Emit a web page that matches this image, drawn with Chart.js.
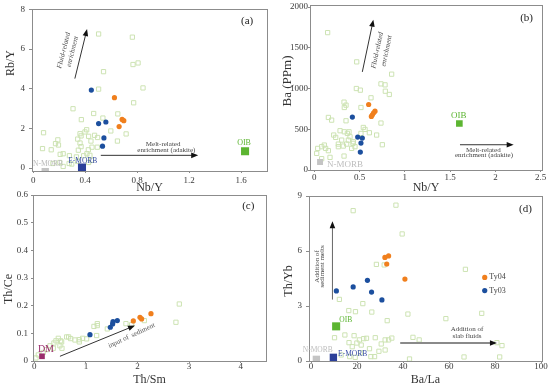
<!DOCTYPE html>
<html>
<head>
<meta charset="utf-8">
<script src="https://cdn.jsdelivr.net/npm/chart.js@4.4.1/dist/chart.umd.min.js"></script>
<style>
  body { margin: 0; width: 550px; height: 386px; overflow: hidden; position: relative; background: #fff; }
  canvas { position: absolute; }
</style>
</head>
<body>
<canvas id="pa"></canvas>
<canvas id="pb"></canvas>
<canvas id="pc"></canvas>
<canvas id="pd"></canvas>
<script>
const SERIF = '"Liberation Serif", "DejaVu Serif", serif';

// (a) Nb/Y vs Rb/Y
const aTicksX = [0, 0.4, 0.8, 1.2, 1.6];
const aTicksY = [0, 2, 4, 6, 8];
const aTy03 = [[0.447, 3.93], [0.503, 2.24], [0.559, 2.32], [0.544, 1.52], [0.533, 1.1]];
const aTy04 = [[0.625, 3.55], [0.684, 2.45], [0.697, 2.39], [0.661, 2.09]];
const aOIB = [[1.631, 0.85]];
const aEMORB = [[0.375, 0.02]];
const aNMORB = [[0.092, -0.18]];
const aRef = [
  [0.503, 6.76], [0.763, 6.6], [0.541, 4.86], [0.768, 5.22], [0.807, 5.3], [0.845, 4.04], [0.503, 3.98],
  [0.773, 3.29], [0.306, 2.99], [0.465, 2.75], [0.651, 2.73], [0.37, 2.44], [0.536, 2.52], [0.079, 1.78],
  [0.715, 1.72], [0.597, 1.87], [0.472, 1.65], [0.411, 1.93], [0.398, 1.82], [0.36, 1.73], [0.368, 1.62],
  [0.426, 1.6], [0.189, 1.42], [0.171, 1.23], [0.194, 1.16], [0.648, 1.36], [0.071, 0.98], [0.138, 0.92],
  [0.36, 1.26], [0.342, 1.46], [0.444, 1.36], [0.368, 1.08], [0.347, 0.9], [0.424, 0.92], [0.452, 1.05],
  [0.493, 1.05], [0.413, 0.72], [0.207, 0.69], [0.23, 0.72], [0.278, 0.62], [0.388, 0.62], [0.436, 0.64],
  [0.151, 0.23], [0.204, 0.28], [0.296, 0.2], [0.342, 0.33], [0.426, 0.28], [0.449, 0.39], [0.23, 0.08],
  [0.276, 0.23], [0.495, 1.54], [0.332, 0.56],
];

// (b) Nb/Y vs Ba
const bTicksX = [0, 0.5, 1, 1.5, 2, 2.5];
const bTicksY = [0, 500, 1000, 1500, 2000];
const bTy03 = [[0.42, 649], [0.479, 404], [0.53, 392], [0.515, 331], [0.508, 220]];
const bTy04 = [[0.6, 804], [0.67, 722], [0.655, 702], [0.641, 678], [0.63, 657]];
const bOIB = [[1.602, 571]];
const bNMORB = [[0.063, 98]];
const bRef = [
  [0.147, 1686], [0.468, 1327], [0.854, 1176], [0.736, 1057], [0.781, 1045], [0.464, 1000], [0.508, 980],
  [0.828, 927], [0.784, 967], [0.626, 886], [0.328, 833], [0.331, 767], [0.35, 796], [0.515, 767],
  [0.155, 645], [0.191, 612], [0.35, 604], [0.736, 576], [0.541, 522], [0.56, 498], [0.284, 482],
  [0.331, 469], [0.383, 469], [0.365, 449], [0.608, 457], [0.688, 429], [0.515, 449], [0.214, 429],
  [0.236, 400], [0.302, 367], [0.394, 408], [0.376, 367], [0.427, 327], [0.751, 310], [0.265, 318],
  [0.32, 294], [0.357, 318], [0.11, 306], [0.081, 286], [0.125, 265], [0.037, 265], [0.155, 237],
  [0.265, 286], [0.412, 265], [0.026, 204], [0.328, 171], [0.173, 155], [0.081, 139], [0.449, 286],
  [0.431, 347],
];

// (c) Th/Sm vs Th/Ce
const cTicksX = [0, 1, 2, 3, 4];
const cTicksY = [0, 0.1, 0.2, 0.3, 0.4, 0.5, 0.6];
const cTy03 = [[1.079, 0.095], [1.473, 0.122], [1.518, 0.134], [1.525, 0.142], [1.609, 0.146]];
const cTy04 = [[1.919, 0.145], [2.048, 0.158], [2.08, 0.152], [2.261, 0.171]];
const cDM = [[0.149, 0.017]];
const cRef = [
  [2.81, 0.206], [2.745, 0.14], [2.132, 0.146], [1.776, 0.135], [1.221, 0.135], [1.221, 0.128],
  [1.156, 0.125], [1.415, 0.116], [1.208, 0.092], [0.937, 0.082], [1.014, 0.08], [0.872, 0.077],
  [0.788, 0.076], [0.872, 0.069], [0.704, 0.081], [0.627, 0.087], [0.665, 0.087], [0.465, 0.082],
  [0.42, 0.073], [0.51, 0.073], [0.381, 0.065], [0.53, 0.069], [0.497, 0.055], [0.536, 0.046],
  [0.304, 0.055], [0.368, 0.046], [0.239, 0.041], [0.174, 0.031], [0.078, 0.022], [0.032, 0.011],
  [1.886, 0.131],
];

// (d) Ba/La vs Th/Yb
const dTicksX = [0, 20, 40, 60, 80, 100];
const dTicksY = [0, 3, 6, 9];
const dTy03 = [[11.0, 3.82], [18.3, 4.04], [24.5, 4.4], [26.3, 3.76], [30.8, 3.33]];
const dTy04 = [[32.1, 5.65], [33.7, 5.73], [32.9, 5.29], [40.8, 4.47]];
const dOIB = [[10.9, 1.89]];
const dEMORB = [[9.7, 0.2]];
const dNMORB = [[2.3, 0.09]];
const dRef = [
  [18.3, 8.2], [36.9, 8.5], [39.6, 6.93], [67.1, 5.0], [28.4, 5.27], [31.8, 5.24], [12.3, 3.36],
  [22.5, 3.13], [16.4, 2.75], [19.3, 2.69], [26.4, 2.67], [33.1, 2.2], [42.1, 2.56], [58.6, 2.31],
  [74.2, 2.6], [10.2, 1.27], [14.7, 1.42], [18.7, 1.38], [16.5, 1.0], [19.9, 0.98], [21, 1.15],
  [22.9, 1.22], [24.1, 1.24], [17.9, 0.78], [21.8, 0.87], [25.4, 0.67], [27.9, 1.27], [32.2, 1.15],
  [33.7, 1.15], [35.1, 1.25], [30.5, 0.93], [29.5, 0.53], [32.2, 0.6], [13.1, 0.33], [16.8, 0.24],
  [19.2, 0.2], [21.5, 0.45], [26, 0.24], [27.6, 0.24], [44.3, 1.29], [47, 1.15], [42.8, 0.11],
  [66.5, 0.22], [80.8, 1.0], [83, 0.84], [82, 0.22],
];

const BLUE = '#1c4f9e';
const ORANGE = '#f07f1d';
const GREEN = '#5cb531';
const EBLUE = '#2b3f9a';
const GRAY = '#c4c4c4';
const PURPLE = '#9a2c6c';
const REF = '#cde3b3';

const pts = (arr) => arr.map(([x, y]) => ({ x, y }));

function dots(arr, color) {
  return { data: pts(arr), pointStyle: 'circle', pointRadius: 2.6, backgroundColor: color, borderWidth: 0, order: 1 };
}
function block(arr, color, r) {
  return { data: pts(arr), pointStyle: 'rect', pointRadius: r, backgroundColor: color, borderWidth: 0, order: 2 };
}
function refs(arr) {
  return { data: pts(arr), pointStyle: 'rect', pointRadius: 3, backgroundColor: 'rgba(0,0,0,0)', borderColor: REF, borderWidth: 1, order: 3 };
}

// frame, axis title on the left, arrows and notes
const decor = {
  id: 'decor',
  afterDatasetsDraw(chart, args, o) {
    const { ctx, chartArea: a, scales } = chart;
    const X = (v) => scales.x.getPixelForValue(v);
    const Y = (v) => scales.y.getPixelForValue(v);
    ctx.save();
    ctx.strokeStyle = '#8c8c8c';
    ctx.lineWidth = 1;
    ctx.strokeRect(Math.round(a.left) + 0.5, Math.round(a.top) + 0.5, Math.round(a.width), Math.round(a.height));

    ctx.textAlign = 'center';
    ctx.textBaseline = 'middle';
    if (o.ytitle) {
      const t = o.ytitle;
      ctx.save();
      ctx.translate(t.x, t.y);
      ctx.rotate(-Math.PI / 2);
      ctx.fillStyle = '#333';
      ctx.font = `${t.size}px ${SERIF}`;
      ctx.fillText(t.text, 0, 0);
      ctx.restore();
    }

    (o.arrows || []).forEach((ar) => {
      const x1 = X(ar.from[0]), y1 = Y(ar.from[1]);
      const x2 = X(ar.to[0]), y2 = Y(ar.to[1]);
      const ang = Math.atan2(y2 - y1, x2 - x1);
      const c = Math.cos(ang), s = Math.sin(ang);
      ctx.strokeStyle = ar.color || '#333';
      ctx.lineWidth = ar.width || 1;
      ctx.beginPath();
      ctx.moveTo(x1, y1);
      ctx.lineTo(x2 - 5 * c, y2 - 5 * s);
      ctx.stroke();
      ctx.fillStyle = '#111';
      ctx.beginPath();
      ctx.moveTo(x2, y2);
      ctx.lineTo(x2 - 7 * c + 2.8 * s, y2 - 7 * s - 2.8 * c);
      ctx.lineTo(x2 - 7 * c - 2.8 * s, y2 - 7 * s + 2.8 * c);
      ctx.closePath();
      ctx.fill();
    });

    (o.marks || []).forEach((m) => {
      ctx.fillStyle = m.color;
      ctx.beginPath();
      ctx.arc(X(m.at[0]), Y(m.at[1]), 2.6, 0, Math.PI * 2);
      ctx.fill();
    });

    (o.notes || []).forEach((n) => {
      ctx.save();
      ctx.translate(X(n.at[0]), Y(n.at[1]));
      if (n.rot) ctx.rotate((n.rot * Math.PI) / 180);
      ctx.fillStyle = n.color || '#444';
      ctx.font = `${n.italic ? 'italic ' : ''}${n.size || 7}px ${SERIF}`;
      ctx.textAlign = n.align || 'center';
      ctx.fillText(n.text, 0, 0);
      ctx.restore();
    });
    ctx.restore();
  },
};

function axis(min, max, ticks, o) {
  return {
    type: 'linear',
    min,
    max,
    afterBuildTicks: (s) => { s.ticks = ticks.map((v) => ({ value: v })); },
    afterFit: (s) => {
      if (o.w != null) s.width = o.w;
      if (o.h != null) s.height = o.h;
    },
    grid: { display: true, drawOnChartArea: false, drawTicks: true, tickLength: o.tl, color: '#8c8c8c' },
    border: { display: false },
    ticks: {
      padding: o.pad,
      color: '#3a3a3a',
      autoSkip: false,
      maxRotation: 0,
      font: { family: SERIF, size: 9 },
      callback: (v) => String(+Number(v).toFixed(2)),
    },
    title: o.title
      ? { display: true, text: o.title, color: '#333', font: { family: SERIF, size: 12 }, padding: { top: 0, bottom: o.tpad } }
      : { display: false },
  };
}

function makePanel(id, box, area, p) {
  const cv = document.getElementById(id);
  cv.width = box.w;
  cv.height = box.h;
  cv.style.left = box.x + 'px';
  cv.style.top = box.y + 'px';
  const t = area.t - box.y, b = area.b - box.y, l = area.l - box.x, r = area.r - box.x;
  const xh = box.h - b;
  const titlePad = box.y + box.h - p.xTitleY - 7.2;
  const notes = Object.assign({}, p.decor, {
    ytitle: { text: p.yTitle, x: p.yTitleAt[0] - box.x, y: p.yTitleAt[1] - box.y, size: p.yTitleSize || 12 },
  });
  return new Chart(cv, {
    type: 'scatter',
    data: { datasets: p.datasets },
    options: {
      responsive: false,
      animation: false,
      events: [],
      layout: { padding: { left: 0, top: t, right: box.w - r, bottom: 0 } },
      plugins: { legend: { display: false }, tooltip: { enabled: false }, decor: notes },
      scales: {
        x: axis(p.x[0], p.x[1], p.xTicks, { h: xh, tl: p.xTick[0], pad: p.xTick[1], title: p.xTitle, tpad: titlePad }),
        y: axis(p.y[0], p.y[1], p.yTicks, { w: l, tl: p.yTick[0], pad: p.yTick[1] }),
      },
    },
    plugins: [decor],
  });
}

makePanel('pa', { x: 0, y: 0, w: 275, h: 200 }, { l: 32, t: 5, r: 267, b: 171 }, {
  x: [-0.01, 1.8], y: [-0.15, 8], xTicks: aTicksX, yTicks: aTicksY,
  xTick: [2, 2], yTick: [3, 4],
  xTitle: 'Nb/Y', xTitleY: 188, yTitle: 'Rb/Y', yTitleAt: [11, 63], yTitleSize: 12,
  datasets: [dots(aTy03, BLUE), dots(aTy04, ORANGE), block(aOIB, GREEN, 5.7), block(aEMORB, EBLUE, 5.7), block(aNMORB, GRAY, 5.2), refs(aRef)],
  decor: {
    arrows: [
      { from: [0.32, 4.51], to: [0.414, 7.01] },
      { from: [0.52, 0.64], to: [1.27, 0.64] },
    ],
    notes: [
      { text: 'Fluid-related', at: [0.235, 5.93], rot: -76, italic: true },
      { text: 'enrichment', at: [0.302, 5.87], rot: -76, italic: true },
      { text: 'Melt-related', at: [1.0, 1.18] },
      { text: 'enrichment (adakite)', at: [1.025, 0.88] },
      { text: '(a)', at: [1.647, 7.4], size: 11, color: '#222' },
      { text: 'N-MORB', at: [0.113, 0.22], color: '#b8b8b8', size: 7.5 },
      { text: 'E-MORB', at: [0.381, 0.36], color: '#3a4fa8', size: 7.5 },
      { text: 'OIB', at: [1.623, 1.27], color: GREEN, size: 8 },
    ],
  },
});

makePanel('pb', { x: 275, y: 0, w: 275, h: 200 }, { l: 310, t: 5, r: 542, b: 170 }, {
  x: [-0.048, 2.515], y: [0, 2020], xTicks: bTicksX, yTicks: bTicksY,
  xTick: [2, 0], yTick: [2, 0],
  xTitle: 'Nb/Y', xTitleY: 188, yTitle: 'Ba (PPm)', yTitleAt: [288, 81], yTitleSize: 13,
  datasets: [dots(bTy03, BLUE), dots(bTy04, ORANGE), block(bOIB, GREEN, 4.7), block(bNMORB, GRAY, 4.2), refs(bRef)],
  decor: {
    arrows: [
      { from: [0.53, 1204], to: [0.652, 1845] },
      { from: [1.609, 310], to: [2.202, 310] },
    ],
    notes: [
      { text: 'Fluid-related', at: [0.696, 1469], rot: -78, italic: true },
      { text: 'enrichment', at: [0.799, 1461], rot: -78, italic: true },
      { text: 'Melt-related', at: [1.867, 249] },
      { text: 'enrichment (adakite)', at: [1.874, 180] },
      { text: '(b)', at: [2.345, 1869], size: 11, color: '#222' },
      { text: 'OIB', at: [1.594, 661], color: GREEN, size: 9 },
      { text: 'N-MORB', at: [0.339, 69], color: '#bdbdbd', size: 9 },
    ],
  },
});

makePanel('pc', { x: 0, y: 186, w: 275, h: 207 }, { l: 33, t: 195, r: 266, b: 361 }, {
  x: [-0.025, 4.49], y: [0, 0.6], xTicks: cTicksX, yTicks: cTicksY,
  xTick: [2, -2], yTick: [2, 3],
  xTitle: 'Th/Sm', xTitleY: 380, yTitle: 'Th/Ce', yTitleAt: [9, 289], yTitleSize: 12,
  datasets: [dots(cTy03, BLUE), dots(cTy04, ORANGE), block(cDM, PURPLE, 4), refs(cRef)],
  decor: {
    arrows: [{ from: [0.497, 0.017], to: [1.951, 0.128] }],
    notes: [
      { text: 'input of  sediment', at: [1.886, 0.092], rot: -25, color: '#555' },
      { text: 'DM', at: [0.226, 0.041], color: PURPLE, size: 10 },
      { text: '(c)', at: [4.147, 0.561], size: 11, color: '#222' },
    ],
  },
});

makePanel('pd', { x: 275, y: 186, w: 275, h: 207 }, { l: 309, t: 196, r: 542, b: 361 }, {
  x: [-0.9, 100.4], y: [0, 9], xTicks: dTicksX, yTicks: dTicksY,
  xTick: [2, -2], yTick: [3, 4],
  xTitle: 'Ba/La', xTitleY: 380, yTitle: 'Th/Yb', yTitleAt: [289, 281], yTitleSize: 12,
  datasets: [dots(dTy03, BLUE), dots(dTy04, ORANGE), block(dOIB, GREEN, 5.7), block(dEMORB, EBLUE, 5.2), block(dNMORB, GRAY, 5.2), refs(dRef)],
  decor: {
    arrows: [
      { from: [9.29, 3.35], to: [9.29, 7.62], color: '#666' },
      { from: [38.75, 0.98], to: [80.8, 0.98], color: '#8a8a8a', width: 2 },
    ],
    marks: [
      { at: [75.5, 4.56], color: ORANGE },
      { at: [75.5, 3.84], color: BLUE },
    ],
    notes: [
      { text: 'Addition of', at: [2.6, 5.16], rot: -90 },
      { text: 'sediment melts', at: [4.8, 5.16], rot: -90 },
      { text: 'Addition of', at: [67.8, 1.71] },
      { text: 'slab fluids', at: [67.8, 1.35] },
      { text: 'OIB', at: [15.1, 2.25], color: GREEN, size: 7.5 },
      { text: 'E-MORB', at: [18.1, 0.4], color: '#3a4fa8', size: 7.5 },
      { text: 'N-MORB', at: [2.9, 0.6], color: '#bdbdbd', size: 7.5 },
      { text: 'Ty04', at: [77.5, 4.56], align: 'left', size: 8 },
      { text: 'Ty03', at: [77.5, 3.84], align: 'left', size: 8 },
      { text: '(d)', at: [93.2, 8.3], size: 11, color: '#222' },
    ],
  },
});
</script>
</body>
</html>
